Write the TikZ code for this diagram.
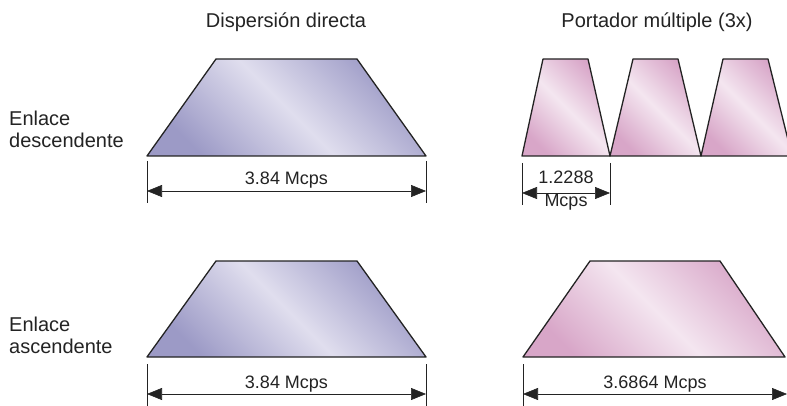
\documentclass[tikz,border=0pt]{standalone}
\usepackage{fontspec}
\setmainfont{Liberation Sans}
\usetikzlibrary{positioning,arrows.meta}
\definecolor{lilac}{RGB}{156,154,198}
\definecolor{lilaclight}{RGB}{224,222,238}
\definecolor{rose}{RGB}{216,166,200}
\definecolor{roselight}{RGB}{244,230,240}
\definecolor{ink}{RGB}{35,35,35}

\begin{document}
\begin{tikzpicture}
                [x=1pt,y=-1pt,node distance=2pt,
                txt/.style={font=\fontsize{20}{22}\selectfont,text=ink,inner sep=0pt},
                dimtxt/.style={font=\fontsize{18}{22}\selectfont,text=ink,inner sep=0pt},
                band/.style={draw=ink,line width=1.3pt,line join=round},
                blueband/.style={band,top color=lilac,bottom color=lilac,middle color=lilaclight,shading angle=-45},
                pinkband/.style={band,top color=rose,bottom color=rose,middle color=roselight,shading angle=-45},
                tick/.style={draw=ink,line width=0.6pt},
                tip/.tip={Triangle[length=15pt,width=12pt]},
                span/.style={draw=ink,line width=0.6pt,tip-tip}]
                \useasboundingbox (0,0) rectangle (787,406);
                % headers and row labels
                \node[txt,anchor=base] (hdirect) at (286,28) {Dispersión directa};
                \node[txt,anchor=base] (hmulti) at (657,28) {Portador múltiple (3x)};
                \node[txt,anchor=north west,align=left] (down) at (9,110.5) {Enlace\\descendente};
                \node[txt,anchor=north west,align=left] (up) at (9,316.5) {Enlace\\ascendente};
                % direct spread, downlink
                \coordinate (a1) at (147,156); \coordinate (a2) at (216,59);
                \coordinate (a3) at (357,59);  \coordinate (a4) at (426,156);
                \path[blueband] (a1) -- (a2) -- (a3) -- (a4) -- cycle;
                % multi carrier, downlink
                \coordinate (m1) at (522,156); \coordinate (m2) at (543,59);
                \coordinate (m3) at (588,59);  \coordinate (m4) at (610,156);
                \coordinate (n2) at (633,59);  \coordinate (n3) at (678,59);
                \coordinate (n4) at (701,156);
                \coordinate (o2) at (723,59);  \coordinate (o3) at (768,59);
                \coordinate (o4) at (792,156);
                \path[pinkband] (m1) -- (m2) -- (m3) -- (m4) -- cycle;
                \path[pinkband] (m4) -- (n2) -- (n3) -- (n4) -- cycle;
                \path[pinkband] (n4) -- (o2) -- (o3) -- (o4) -- cycle;
                % direct spread, uplink
                \coordinate (b1) at (147,357); \coordinate (b2) at (216,261);
                \coordinate (b3) at (357,261); \coordinate (b4) at (426,357);
                \path[blueband] (b1) -- (b2) -- (b3) -- (b4) -- cycle;
                % multi carrier, uplink
                \coordinate (c1) at (523,357); \coordinate (c2) at (590,261);
                \coordinate (c3) at (720,261); \coordinate (c4) at (785,357);
                \path[pinkband] (c1) -- (c2) -- (c3) -- (c4) -- cycle;
                % dimension lines
                \foreach \x/\y/\n in {147/191/ta,426/191/tb,522/193/tm,610/193/tn,147/394/tc,426/394/td,523/394/te,787/394/tf}
                    {\coordinate (\n) at (\x,\y);
                     \draw[tick] (\x,\y-30) -- (\x,\y+12);}
                \draw[span] (ta) -- node[dimtxt,anchor=base,yshift=6pt] (wa) {3.84 Mcps} (tb);
                \draw[span] (tc) -- node[dimtxt,anchor=base,yshift=6pt] (wc) {3.84 Mcps} (td);
                \draw[span] (te) -- node[dimtxt,anchor=base,yshift=6pt] (we) {3.6864 Mcps} (tf);
                \draw[span] (tm) -- node[dimtxt,anchor=base,yshift=9pt] (wm) {1.2288} (tn);
                \node[dimtxt,anchor=base] (wmu) at (566,207) {Mcps};
            \end{tikzpicture}
\end{document}
